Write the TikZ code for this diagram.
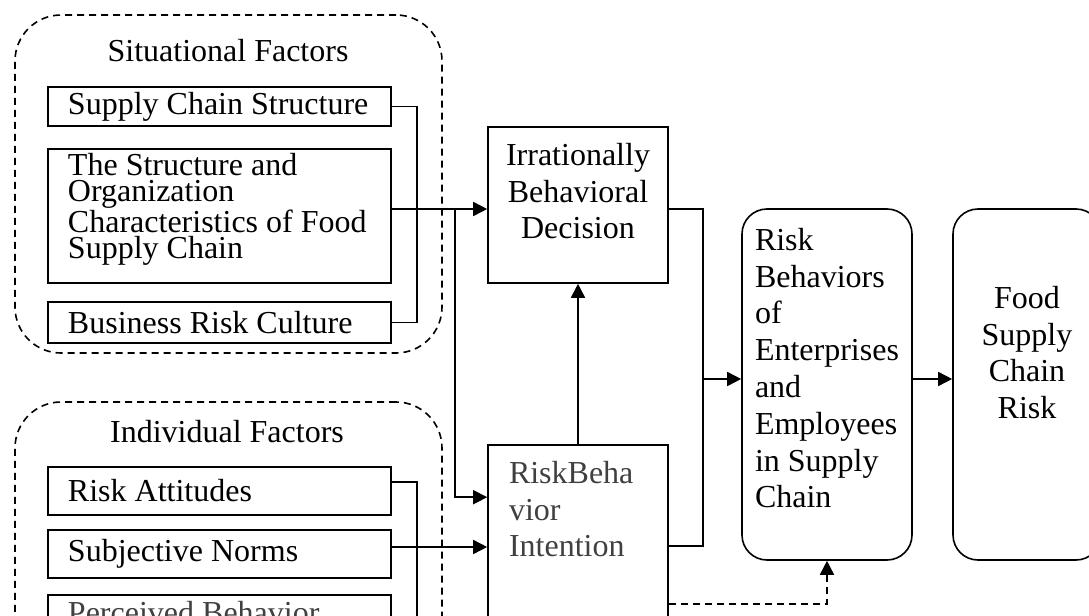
\documentclass[tikz,border=0pt]{standalone}
\usepackage{fontspec}
\setmainfont{Liberation Serif}
\usetikzlibrary{arrows.meta}
\definecolor{txtgray}{HTML}{404040}

\begin{document}
\begin{tikzpicture}[x=0.5pt,y=-0.5pt,line width=0.8pt,
    font=\fontsize{16}{18.4}\selectfont,
    group/.style={draw, dash pattern=on 3.5pt off 2.5pt, rounded corners=23pt, minimum width=213.5pt, inner sep=0pt},
    factor/.style={draw, minimum width=171.5pt, inner sep=0pt},
    lead/.style={anchor=west, inner xsep=10pt, inner ysep=0pt},
    tight/.style={font=\fontsize{16}{13}\selectfont, align=left, inner xsep=10pt, inner ysep=2pt},
    block/.style={draw, inner sep=0pt, minimum width=90pt},
    rblock/.style={draw, rounded corners=12.5pt, inner sep=0pt, minimum height=175.5pt},
    arr/.style={-{Triangle[length=7pt,width=7pt]}},
    dashline/.style={dash pattern=on 3.5pt off 2.5pt}]

    \useasboundingbox (0,0) rectangle (1089,616);
    \clip (0,0) rectangle (1089,616);

    % situational factors
    \node[group, minimum height=169pt] (sit) at (228.5,184) {};
    \node (sittitle) at (228,51) {Situational Factors};
    \node[factor, minimum height=19.5pt, label={[lead]west:Supply Chain Structure}] (scs) at (219.5,106.5) {};
    \node[factor, minimum height=67pt,
        label={[tight, anchor=north west]north west:The Structure and\\Organization\\Characteristics of Food\\Supply Chain}] (sfc) at (219.5,216) {};
    \node[factor, minimum height=20.5pt, label={[lead]west:Business Risk Culture}] (brc) at (219.5,322.5) {};

    % individual factors
    \node[group, minimum height=158pt] (ind) at (228.5,560) {};
    \node (indtitle) at (227,432) {Individual Factors};
    \node[factor, minimum height=24pt, label={[lead]west:Risk Attitudes}] (ra) at (219.5,491) {};
    \node[factor, minimum height=24pt, label={[lead]west:Subjective Norms}] (sn) at (219.5,554) {};
    \node[factor, minimum height=32pt,
        label={[tight, anchor=north west, text=txtgray, inner ysep=3pt]north west:Perceived Behavior}] (pbc) at (219.5,627) {};

    % decision and intention
    \node[block, minimum height=78pt,
        label={[anchor=north, align=center, inner ysep=8pt]north:Irrationally\\Behavioral\\Decision}] (ibd) at (578,205) {};
    \node[block, minimum height=130pt,
        label={[anchor=north west, align=left, text=txtgray, inner xsep=10.5pt, inner ysep=8pt]north west:RiskBeha\\vior\\Intention}] (rbi) at (578,575) {};

    % behaviors and risk
    \node[rblock, minimum width=85pt,
        label={[anchor=north west, align=left, inner xsep=6.5pt, inner ysep=9.5pt]north west:Risk\\Behaviors\\of\\Enterprises\\and\\Employees\\in Supply\\Chain}] (rbe) at (827,384.5) {};
    \node[rblock, minimum width=74pt,
        label={[anchor=north, align=center, inner ysep=38.5pt]north:Food\\Supply\\Chain\\Risk}] (fscr) at (1027,384.5) {};

    \coordinate (split) at (455,209);
    \coordinate (merge) at (703,379);

    % connectors
    \draw (scs.east) -- ++(25,0) |- (brc.east);
    \draw[arr] ([yshift=3.5pt]sfc.east) -- ([yshift=3.5pt]sfc.east -| ibd.west);
    \draw[arr] (split) |- ([yshift=-26.5pt]rbi.north west);
    \draw ([yshift=4.5pt]ra.east) -- ++(25,0) |- (pbc.east);
    \draw[arr] ([yshift=3.5pt]sn.east) -- ([yshift=3.5pt]sn.east -| rbi.west);
    \draw[arr] (rbi.north) -- (ibd.south);
    \draw ([yshift=-2pt]ibd.east) -| (merge) |- ([yshift=-51pt]rbi.north east);
    \draw[arr] (merge) -- (merge -| rbe.west);
    \draw[arr] ([yshift=2.75pt]rbe.east) -- ([yshift=2.75pt]rbe.east -| fscr.west);
    \draw[arr, dashline] ([yshift=-80pt]rbi.north east) -| (rbe.south);
\end{tikzpicture}
\end{document}
